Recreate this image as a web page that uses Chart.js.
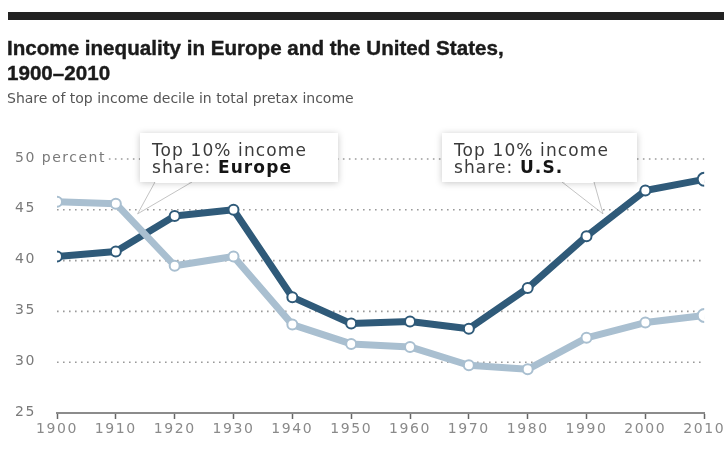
<!DOCTYPE html>
<html><head><meta charset="utf-8">
<script src="https://cdn.jsdelivr.net/npm/chart.js@4.4.1/dist/chart.umd.min.js"></script>
<style>
html,body{margin:0;padding:0;background:#fff;}
#wrap{position:relative;width:724px;height:456px;overflow:hidden;}
#bar{position:absolute;left:8px;top:12px;width:716px;height:8px;background:#222;}
#title{position:absolute;left:7px;top:35px;margin:0;font:bold 20.6px "Liberation Sans",Arial,sans-serif;line-height:25px;color:#1b1b1b;-webkit-text-stroke:0.4px #1b1b1b;}
#sub{position:absolute;left:7px;top:90px;font:14px "DejaVu Sans",sans-serif;line-height:16px;color:#555;}
canvas{position:absolute;left:0;top:0;}
</style></head>
<body><div id="wrap">
<canvas id="c" width="724" height="456"></canvas>
<div id="bar"></div>
<h1 id="title">Income inequality in Europe and the United States,<br>1900–2010</h1>
<div id="sub">Share of top income decile in total pretax income</div>
</div>
<script>
const years = [1900,1910,1920,1930,1940,1950,1960,1970,1980,1990,2000,2010];
const europe = [45.8,45.6,39.5,40.4,33.7,31.8,31.5,29.7,29.3,32.4,33.9,34.6];
const us = [40.4,40.9,44.4,45.0,36.4,33.8,34.0,33.3,37.3,42.4,46.9,48.0];
const yTicks = [25,30,35,40,45,50];
const yTickLabels = ['25','30','35','40','45','50 percent'];
const xTicks = years;

const US_COLOR = '#2f5a79';
const EU_COLOR = '#a9bfd0';

const gridPlugin = {
  id:'gridAndCallouts',
  beforeDraw(chart){ chart.ctx.letterSpacing = '1.6px'; },
  beforeDatasetsDraw(chart){
    const ctx = chart.ctx, ys = chart.scales.y, xs = chart.scales.x, a = chart.chartArea;
    ctx.save();
    ctx.font = '14px "DejaVu Sans", sans-serif';
    ctx.letterSpacing = '1.5px';
    ctx.fillStyle = '#7a7a7a';
    ctx.textBaseline = 'middle';
    ctx.textAlign = 'left';
    yTicks.forEach((v,i)=>{
      const y = ys.getPixelForValue(v);
      const label = yTickLabels[i];
      ctx.fillText(label, 15, y-1);
      if (v === yTicks[0]) return;
      const w = ctx.measureText(label).width;
      const x0 = Math.max(a.left, 15 + w + 3);
      ctx.save();
      ctx.strokeStyle = '#9a9a9a';
      ctx.lineWidth = 1.6;
      ctx.setLineDash([1.6,4.4]);
      ctx.beginPath(); ctx.moveTo(x0, y); ctx.lineTo(a.right, y); ctx.stroke();
      ctx.restore();
    });
    ctx.restore();
    drawCallout(ctx, {x:140,y:133,w:198,h:49}, {x1:155,x2:192, tx:xs.getPixelForValue(1913.7), ty:ys.getPixelForValue(44.6)}, 'Europe');
    drawCallout(ctx, {x:442,y:133,w:195,h:49}, {x1:562,x2:594, tx:xs.getPixelForValue(1992.8), ty:ys.getPixelForValue(44.6)}, 'U.S.');
  }
};

function drawCallout(ctx, b, t, boldWord){
  ctx.save();
  const by = b.y + b.h;
  ctx.beginPath();
  ctx.moveTo(t.x1, by-1); ctx.lineTo(t.tx, t.ty); ctx.lineTo(t.x2, by-1); ctx.closePath();
  ctx.fillStyle = 'rgba(255,255,255,0.85)';
  ctx.fill();
  ctx.strokeStyle = 'rgba(170,170,170,0.7)';
  ctx.lineWidth = 1;
  ctx.beginPath(); ctx.moveTo(t.x1, by); ctx.lineTo(t.tx, t.ty); ctx.lineTo(t.x2, by); ctx.stroke();
  ctx.shadowColor = 'rgba(0,0,0,0.22)';
  ctx.shadowBlur = 7;
  ctx.shadowOffsetY = 1;
  ctx.fillStyle = '#fff';
  ctx.fillRect(b.x, b.y, b.w, b.h);
  ctx.shadowColor = 'transparent';
  ctx.fillStyle = '#fff';
  ctx.beginPath(); ctx.moveTo(t.x1+1, by-2); ctx.lineTo(t.x1+1+(t.tx-t.x1)*0.05, by+1); ctx.lineTo(t.x2-1+(t.tx-t.x2)*0.05, by+1); ctx.lineTo(t.x2-1, by-2); ctx.closePath(); ctx.fill();
  ctx.letterSpacing = '1.1px';
  ctx.textBaseline = 'alphabetic';
  ctx.textAlign = 'left';
  ctx.font = '17px "DejaVu Sans", sans-serif';
  ctx.fillStyle = '#3a3a3a';
  ctx.fillText('Top 10% income', b.x+12, b.y+23);
  const pre = 'share: ';
  ctx.fillText(pre, b.x+12, b.y+40);
  const w = ctx.measureText(pre).width;
  ctx.font = 'bold 17px "DejaVu Sans", sans-serif';
  ctx.fillStyle = '#151515';
  ctx.fillText(boldWord, b.x+12+w, b.y+40);
  ctx.restore();
}

const toXY = arr => years.map((yr,i)=>({x:yr, y:arr[i]}));
const lastBig = ctx => ctx.dataIndex === years.length-1 ? 6.5 : 5;

new Chart(document.getElementById('c'), {
  type:'line',
  data:{
    datasets:[
      {label:'Europe', data:toXY(europe), borderColor:EU_COLOR, borderWidth:7, pointRadius:lastBig,
       pointBackgroundColor:'#fff', pointBorderColor:EU_COLOR, pointBorderWidth:2, tension:0, borderJoinStyle:'round'},
      {label:'U.S.', data:toXY(us), borderColor:US_COLOR, borderWidth:7, pointRadius:lastBig,
       pointBackgroundColor:'#fff', pointBorderColor:US_COLOR, pointBorderWidth:2, tension:0, borderJoinStyle:'round'}
    ]
  },
  options:{
    responsive:false, animation:false, devicePixelRatio:1,
    layout:{autoPadding:false, padding:{left:57, right:15, top:159, bottom:17}},
    plugins:{legend:{display:false}, tooltip:{enabled:false}},
    scales:{
      x:{type:'linear', min:1900, max:2010,
         afterBuildTicks: s => { s.ticks = xTicks.map(v=>({value:v})); },
         afterFit: s => { s.height = 26; },
         grid:{drawOnChartArea:false, drawTicks:true, tickLength:6, tickColor:'#666', tickWidth:1.5},
         border:{color:'#8c8c8c', width:2},
         ticks:{callback:v=>String(v), color:'#8a8a8a', padding:2, maxRotation:0, autoSkip:false,
                font:{family:'"DejaVu Sans", sans-serif', size:14}}
      },
      y:{type:'linear', min:25, max:50, display:false}
    }
  },
  plugins:[gridPlugin]
});
</script>
</body></html>
